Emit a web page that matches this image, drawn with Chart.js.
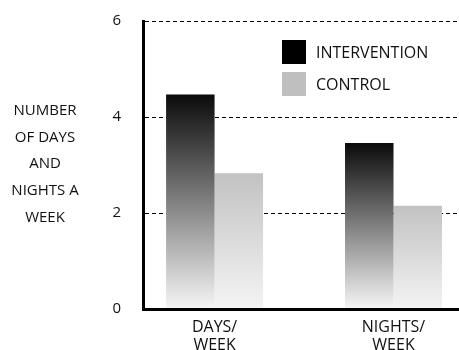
<!DOCTYPE html>
<html>
<head>
<meta charset="utf-8">
<script src="https://cdn.jsdelivr.net/npm/chart.js@4"></script>
<style>
  html, body { margin: 0; padding: 0; background: #fff; }
  #wrap { width: 459px; height: 350px; }
</style>
</head>
<body>
<div id="wrap"><canvas id="grafica" width="459" height="350"></canvas></div>
<script>
// datos
const categorias = [["DAYS/", "WEEK"], ["NIGHTS/", "WEEK"]];
const intervencion = [4.47, 3.46];
const control = [2.83, 2.15];
const tituloY = ["NUMBER", "OF DAYS", "AND", "NIGHTS A", "WEEK"];
const ticksY = [0, 2, 4, 6];

// colores: arriba / abajo del degradado, y color de leyenda
const colIntervencion = ["#0a0a0a", "#f6f6f6", "#000000"];
const colControl = ["#c2c2c2", "#f4f4f4", "#bfbfbf"];

const fuente = "'Open Sans', 'DejaVu Sans', sans-serif";

function degradado(cols) {
    return (c) => {
        if (c.type !== "data" || !c.chart.chartArea) return cols[0];
        const y = c.chart.scales.y;
        const g = c.chart.ctx.createLinearGradient(0, y.getPixelForValue(c.parsed.y), 0, y.getPixelForValue(0));
        g.addColorStop(0, cols[0]);
        g.addColorStop(1, cols[1]);
        return g;
    };
}

const puntos = (arr) => arr.map((v, i) => ({ x: i, y: v }));

// titulo del eje y y leyenda dibujados a mano
const extras = {
    id: "extras",
    afterDraw(chart) {
        const ctx = chart.ctx;
        ctx.save();
        ctx.fillStyle = "#111";
        ctx.font = "15px " + fuente;
        ctx.textAlign = "center";
        ctx.textBaseline = "middle";
        tituloY.forEach((t, i) => ctx.fillText(t, 45, 111 + i * 26.6));

        ctx.font = "16px " + fuente;
        ctx.textAlign = "left";
        chart.data.datasets.forEach((ds, i) => {
            ctx.fillStyle = ds.legendColor;
            ctx.fillRect(282, 40 + i * 32, 24, 24);
            ctx.fillStyle = "#111";
            ctx.fillText(ds.label, 316, 53 + i * 32);
        });
        ctx.restore();
    }
};

new Chart("grafica", {
    type: "bar",
    data: {
        datasets: [
            {
                label: "INTERVENTION",
                data: puntos(intervencion),
                backgroundColor: degradado(colIntervencion),
                legendColor: colIntervencion[2]
            }, {
                label: "CONTROL",
                data: puntos(control),
                backgroundColor: degradado(colControl),
                legendColor: colControl[2]
            }
        ]
    },
    options: {
        responsive: false,
        animation: false,
        barPercentage: 1,
        categoryPercentage: 0.542,
        layout: { padding: { top: 21, left: 0, right: 0, bottom: 0 } },
        plugins: {
            legend: { display: false },
            tooltip: { enabled: false }
        },
        scales: {
            x: {
                type: "linear",
                offset: false,
                min: -0.4,
                max: 1.366,
                afterBuildTicks: (s) => { s.ticks = categorias.map((_, i) => ({ value: i })); },
                afterFit: (s) => { s.height = 41; },
                grid: { display: false, drawTicks: false, offset: false },
                border: { display: true, color: "#000", width: 3, z: 1 },
                ticks: {
                    callback: (v) => categorias[v],
                    color: "#111",
                    padding: 9,
                    maxRotation: 0,
                    font: { family: fuente, size: 16, lineHeight: 1.15 }
                }
            },
            y: {
                min: 0,
                max: 6,
                afterBuildTicks: (s) => { s.ticks = ticksY.map((v) => ({ value: v })); },
                afterFit: (s) => {
                    s.width = 143;
                    s.paddingTop = 0;
                    s.paddingBottom = 0;
                },
                grid: {
                    drawTicks: false,
                    color: (c) => (c.tick && c.tick.value > 0 ? "#000" : "rgba(0,0,0,0)"),
                    lineWidth: 1
                },
                border: { display: true, color: "#000", width: 3, dash: [4, 3] },
                ticks: {
                    color: "#111",
                    padding: 22,
                    font: { family: fuente, size: 15 }
                }
            }
        }
    },
    plugins: [extras]
});
</script>
</body>
</html>
